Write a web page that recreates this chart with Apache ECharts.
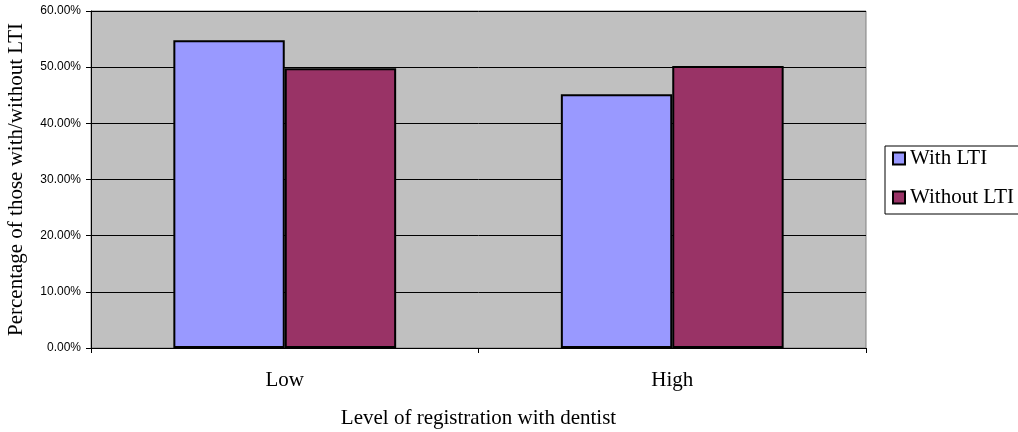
<!DOCTYPE html>
<html><head><meta charset="utf-8">
<script src="https://cdn.jsdelivr.net/npm/echarts@6/dist/echarts.min.js"></script>
<style>html,body{margin:0;padding:0;background:#fff}#c{width:1018px;height:432px}</style>
</head><body><div id="c"></div>
<script>
var categories = ['Low', 'High'];
var withLTI = [54.8, 45.2];
var withoutLTI = [49.8, 50.2];
var seriesNames = ['With LTI', 'Without LTI'];

var chart = echarts.init(document.getElementById('c'));
var serif = '"Liberation Serif","Times New Roman",serif';
var sans = '"Liberation Sans",Arial,sans-serif';
chart.setOption({
  animation: false,
  grid: {left: 91, right: 152, top: 11, bottom: 84, containLabel: false, outerBoundsMode: 'none',
         show: true, backgroundColor: '#C0C0C0', borderColor: '#808080', borderWidth: 1},
  legend: {
    orient: 'vertical', left: 885, top: 146,
    data: seriesNames,
    icon: 'rect', itemWidth: 12, itemHeight: 12, itemGap: 18,
    padding: [2, 40, 6, 7],
    borderColor: '#000', borderWidth: 1,
    itemStyle: {borderColor: '#000', borderWidth: 2},
    textStyle: {fontFamily: serif, fontSize: 21, color: '#000'}
  },
  xAxis: {
    type: 'category', data: categories,
    name: 'Level of registration with dentist', nameLocation: 'middle', nameGap: 60,
    nameTextStyle: {fontFamily: serif, fontSize: 21, color: '#000'},
    axisLine: {lineStyle: {color: '#000', width: 1}},
    axisTick: {show: true, inside: false, length: 5, lineStyle: {color: '#000'}},
    axisLabel: {fontFamily: serif, fontSize: 21, color: '#000', margin: 22}
  },
  yAxis: {
    type: 'value', min: 0, max: 60, interval: 10,
    name: 'Percentage of those with/without LTI', nameLocation: 'middle', nameGap: 64,
    nameTextStyle: {fontFamily: serif, fontSize: 21, color: '#000', padding: [0, 0, 0, 0]},
    axisLine: {show: true, lineStyle: {color: '#000', width: 1}},
    axisTick: {show: true, length: 5, lineStyle: {color: '#000'}},
    axisLabel: {fontFamily: sans, fontSize: 12, color: '#000', margin: 10, formatter: function (v) { return v.toFixed(2) + '%'; }},
    splitLine: {show: true, lineStyle: {color: '#000', width: 1}}
  },
  series: [
    {name: seriesNames[0], type: 'bar', data: withLTI, barGap: '0%', barCategoryGap: '42.5%',
     itemStyle: {color: '#9999FF', borderColor: '#000', borderWidth: 2}},
    {name: seriesNames[1], type: 'bar', data: withoutLTI,
     itemStyle: {color: '#993366', borderColor: '#000', borderWidth: 2}}
  ]
});
</script></body></html>
